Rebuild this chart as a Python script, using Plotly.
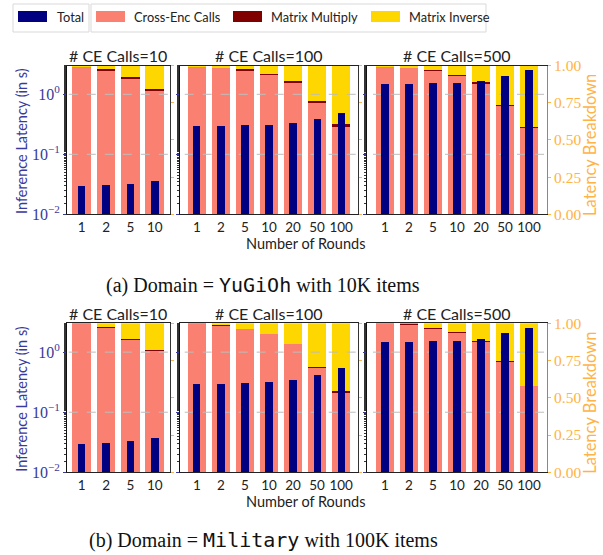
import math
import plotly.graph_objects as go

# ---------------- data ----------------
rounds_ce10 = ["1", "2", "5", "10"]
rounds_ce100 = ["1", "2", "5", "10", "20", "50", "100"]
rounds_ce500 = ["1", "2", "5", "10", "20", "50", "100"]
panel_titles = ["# CE Calls=10", "# CE Calls=100", "# CE Calls=500"]

# Domain = YuGiOh (10K items)
yg_total_ce10 = [0.030, 0.031, 0.032, 0.036]
yg_total_ce100 = [0.296, 0.296, 0.31, 0.31, 0.333, 0.39, 0.49]
yg_total_ce500 = [1.50, 1.50, 1.56, 1.56, 1.67, 2.04, 2.57]
yg_ce_ce10 = [0.998, 0.973, 0.919, 0.832]
yg_mm_ce10 = [0.001, 0.006, 0.002, 0.009]
yg_mi_ce10 = [0.001, 0.021, 0.079, 0.159]
yg_ce_ce100 = [0.998, 0.989, 0.971, 0.944, 0.886, 0.758, 0.594]
yg_mm_ce100 = [0.001, 0.001, 0.007, 0.001, 0.007, 0.002, 0.013]
yg_mi_ce100 = [0.001, 0.010, 0.022, 0.055, 0.107, 0.240, 0.393]
yg_ce_ce500 = [0.998, 0.991, 0.971, 0.937, 0.879, 0.735, 0.585]
yg_mm_ce500 = [0.001, 0.001, 0.001, 0.001, 0.007, 0.001, 0.005]
yg_mi_ce500 = [0.001, 0.008, 0.028, 0.062, 0.114, 0.264, 0.410]

# Domain = Military (100K items)
ml_total_ce10 = [0.0297, 0.031, 0.0337, 0.0378]
ml_total_ce100 = [0.296, 0.296, 0.308, 0.32, 0.346, 0.419, 0.548]
ml_total_ce500 = [1.49, 1.49, 1.55, 1.55, 1.67, 2.05, 2.54]
ml_ce_ce10 = [0.998, 0.968, 0.890, 0.814]
ml_mm_ce10 = [0.001, 0.007, 0.007, 0.009]
ml_mi_ce10 = [0.001, 0.025, 0.103, 0.177]
ml_ce_ce100 = [0.998, 0.986, 0.961, 0.927, 0.860, 0.700, 0.535]
ml_mm_ce100 = [0.001, 0.001, 0.001, 0.001, 0.001, 0.009, 0.013]
ml_mi_ce100 = [0.001, 0.013, 0.038, 0.072, 0.139, 0.291, 0.452]
ml_ce_ce500 = [0.998, 0.989, 0.960, 0.935, 0.877, 0.743, 0.579]
ml_mm_ce500 = [0.001, 0.007, 0.007, 0.007, 0.007, 0.001, 0.001]
ml_mi_ce500 = [0.001, 0.004, 0.033, 0.058, 0.116, 0.256, 0.420]

legend_names = ["Total", "Cross-Enc Calls", "Matrix Multiply", "Matrix Inverse"]
captions = ["(a) Domain = <span style='font-family:DejaVu Sans Mono'>YuGiOh</span> with 10K items",
            "(b) Domain = <span style='font-family:DejaVu Sans Mono'>Military</span> with 100K items"]

# ---------------- style ----------------
W, H = 603, 555
NAVY = "#000080"
SALMON = "#FA8072"
MAROON = "#800000"
GOLD = "#FFD700"
LEFTC = "#3a3a9c"
ORANGE = "#FFB347"
SANS = "Lato, DejaVu Sans, sans-serif"
SERIF = "Liberation Serif, Times New Roman, serif"
LOG_LO, LOG_HI = -2, 0.48

def px_x(p):
    return p / W

def px_y(p):
    return 1 - p / H

panels = [
    (rounds_ce10, yg_total_ce10, yg_ce_ce10, yg_mm_ce10, yg_mi_ce10),
    (rounds_ce100, yg_total_ce100, yg_ce_ce100, yg_mm_ce100, yg_mi_ce100),
    (rounds_ce500, yg_total_ce500, yg_ce_ce500, yg_mm_ce500, yg_mi_ce500),
    (rounds_ce10, ml_total_ce10, ml_ce_ce10, ml_mm_ce10, ml_mi_ce10),
    (rounds_ce100, ml_total_ce100, ml_ce_ce100, ml_mm_ce100, ml_mi_ce100),
    (rounds_ce500, ml_total_ce500, ml_ce_ce500, ml_mm_ce500, ml_mi_ce500),
]
col_px = [(67, 169.5), (180, 358), (367, 547)]
col_range = [(-0.6, 3.6), (-0.7, 6.7), (-0.75, 6.75)]
row_px = [(65.5, 214.3), (323.3, 472.3)]

fig = go.Figure()
layout = dict(
    template="none",
    width=W, height=H, margin=dict(l=0, r=0, t=0, b=0, pad=0),
    paper_bgcolor="white", plot_bgcolor="white",
    barmode="stack", showlegend=False,
)
annotations = []
shapes = []

grid_fr = [(math.log10(v) - LOG_LO) / (LOG_HI - LOG_LO) for v in (1.0, 0.1)]

for k, (rounds, total, ce, mm, mi) in enumerate(panels):
    row, col = divmod(k, 3)
    xa = f"x{k + 1}"
    yb = "y" if k == 0 else f"y{2 * k + 1}"
    yt = f"y{2 * k + 2}"
    pos = list(range(len(rounds)))
    for vals, colr, nm in ((ce, SALMON, legend_names[1]), (mm, MAROON, legend_names[2]),
                           (mi, GOLD, legend_names[3])):
        fig.add_trace(go.Bar(x=pos, y=vals, xaxis=xa, yaxis=yb, width=0.77,
                             marker=dict(color=colr, line=dict(width=0)), name=nm))
    # dashed gridlines at left-axis major ticks (drawn above breakdown bars)
    fig.add_trace(go.Scatter(x=[-2, 10, None, -2, 10],
                             y=[grid_fr[0], grid_fr[0], None, grid_fr[1], grid_fr[1]],
                             xaxis=xa, yaxis=yb, mode="lines", hoverinfo="skip",
                             line=dict(color="#bdbdbd", width=1, dash="dash")))
    fig.add_trace(go.Bar(x=pos, y=total, xaxis=xa, yaxis=yt, width=0.3,
                         marker=dict(color=NAVY, line=dict(width=0)), name=legend_names[0]))

    x0, x1 = col_px[col]
    yy0, yy1 = row_px[row]
    xkey = "xaxis" if k == 0 else f"xaxis{k + 1}"
    ybkey = "yaxis" if k == 0 else f"yaxis{2 * k + 1}"
    ytkey = f"yaxis{2 * k + 2}"
    layout[xkey] = dict(
        domain=[px_x(x0), px_x(x1)], anchor=yb, range=list(col_range[col]),
        tickvals=pos, ticktext=rounds, ticks="",
        tickfont=dict(family=SANS, size=13.5, color="#222"),
        showline=True, linecolor="#222", linewidth=1, mirror=True,
        showgrid=False, zeroline=False, fixedrange=True, automargin=False,
    )
    layout[ybkey] = dict(
        domain=[px_y(yy1), px_y(yy0)], anchor=xa, side="right", range=[0, 1],
        tickvals=[0, 0.25, 0.5, 0.75, 1.0], ticktext=["0.00", "0.25", "0.50", "0.75", "1.00"],
        showticklabels=(col == 2), ticks="outside", ticklen=3, tickcolor=ORANGE,
        tickfont=dict(family=SERIF, size=15.5, color=ORANGE),
        showline=True, linecolor="#888" if col == 2 else "#333", linewidth=1,
        showgrid=False, zeroline=False, automargin=False,
    )
    layout[ytkey] = dict(
        type="log", range=[LOG_LO, LOG_HI], overlaying=yb, anchor=xa, side="left",
        tickvals=[0.01, 0.1, 1], ticktext=["10<sup>−2</sup>", "10<sup>−1</sup>", "10<sup>0</sup>"],
        showticklabels=(col == 0), ticks="outside", ticklen=3, tickcolor=LEFTC,
        minor=dict(ticks="outside", ticklen=2, tickcolor="#333", showgrid=False),
        tickfont=dict(family=SERIF, size=16, color=LEFTC),
        showline=True, linecolor="#111", linewidth=1,
        showgrid=False, zeroline=False, automargin=False,
    )
    # panel title
    annotations.append(dict(text=panel_titles[col], xref="paper", yref="paper",
                            x=px_x((x0 + x1) / 2), y=px_y(yy0 - 10), xanchor="center", yanchor="middle",
                            showarrow=False, font=dict(family=SANS, size=16, color="#222")))

for row in range(2):
    yy0, yy1 = row_px[row]
    annotations.append(dict(text="Number of Rounds", xref="paper", yref="paper",
                            x=px_x(305), y=px_y(yy1 + 29), xanchor="center", yanchor="middle",
                            showarrow=False, font=dict(family=SANS, size=14.5, color="#222")))
    annotations.append(dict(text="Inference Latency (in s)", xref="paper", yref="paper",
                            x=px_x(22), y=px_y((yy0 + yy1) / 2 + 1), textangle=-90,
                            xanchor="center", yanchor="middle", showarrow=False,
                            font=dict(family=SANS, size=14.5, color=LEFTC)))
    annotations.append(dict(text="Latency Breakdown", xref="paper", yref="paper",
                            x=px_x(590), y=px_y((yy0 + yy1) / 2 + 5), textangle=-90,
                            xanchor="center", yanchor="middle", showarrow=False,
                            font=dict(family=SANS, size=16.5, color=ORANGE)))
    annotations.append(dict(text=captions[row], xref="paper", yref="paper",
                            x=px_x(263), y=px_y(285 if row == 0 else 540),
                            xanchor="center", yanchor="middle", showarrow=False,
                            font=dict(family=SERIF, size=20, color="#111")))

# custom legend (two framed boxes)
for bx0, bx1 in ((13, 89), (91, 486)):
    shapes.append(dict(type="rect", xref="paper", yref="paper",
                       x0=px_x(bx0), x1=px_x(bx1), y0=px_y(32), y1=px_y(4),
                       line=dict(color="#d9d9d9", width=1), fillcolor="white", layer="above"))
legend_items = [(18, 55, NAVY), (96, 132, SALMON), (233, 269, MAROON), (371, 407, GOLD)]
for (sx, tx, colr), nm in zip(legend_items, legend_names):
    shapes.append(dict(type="rect", xref="paper", yref="paper",
                       x0=px_x(sx), x1=px_x(sx + 29), y0=px_y(22), y1=px_y(11),
                       line=dict(width=0), fillcolor=colr, layer="above"))
    annotations.append(dict(text=nm, xref="paper", yref="paper", x=px_x(tx), y=px_y(17),
                            xanchor="left", yanchor="middle", showarrow=False,
                            font=dict(family=SANS, size=12.8, color="#222")))

layout["annotations"] = annotations
layout["shapes"] = shapes
fig.update_layout(**layout)
fig.write_html("out.html", config={"displayModeBar": False},
               post_script="document.body.style.margin='0';")
